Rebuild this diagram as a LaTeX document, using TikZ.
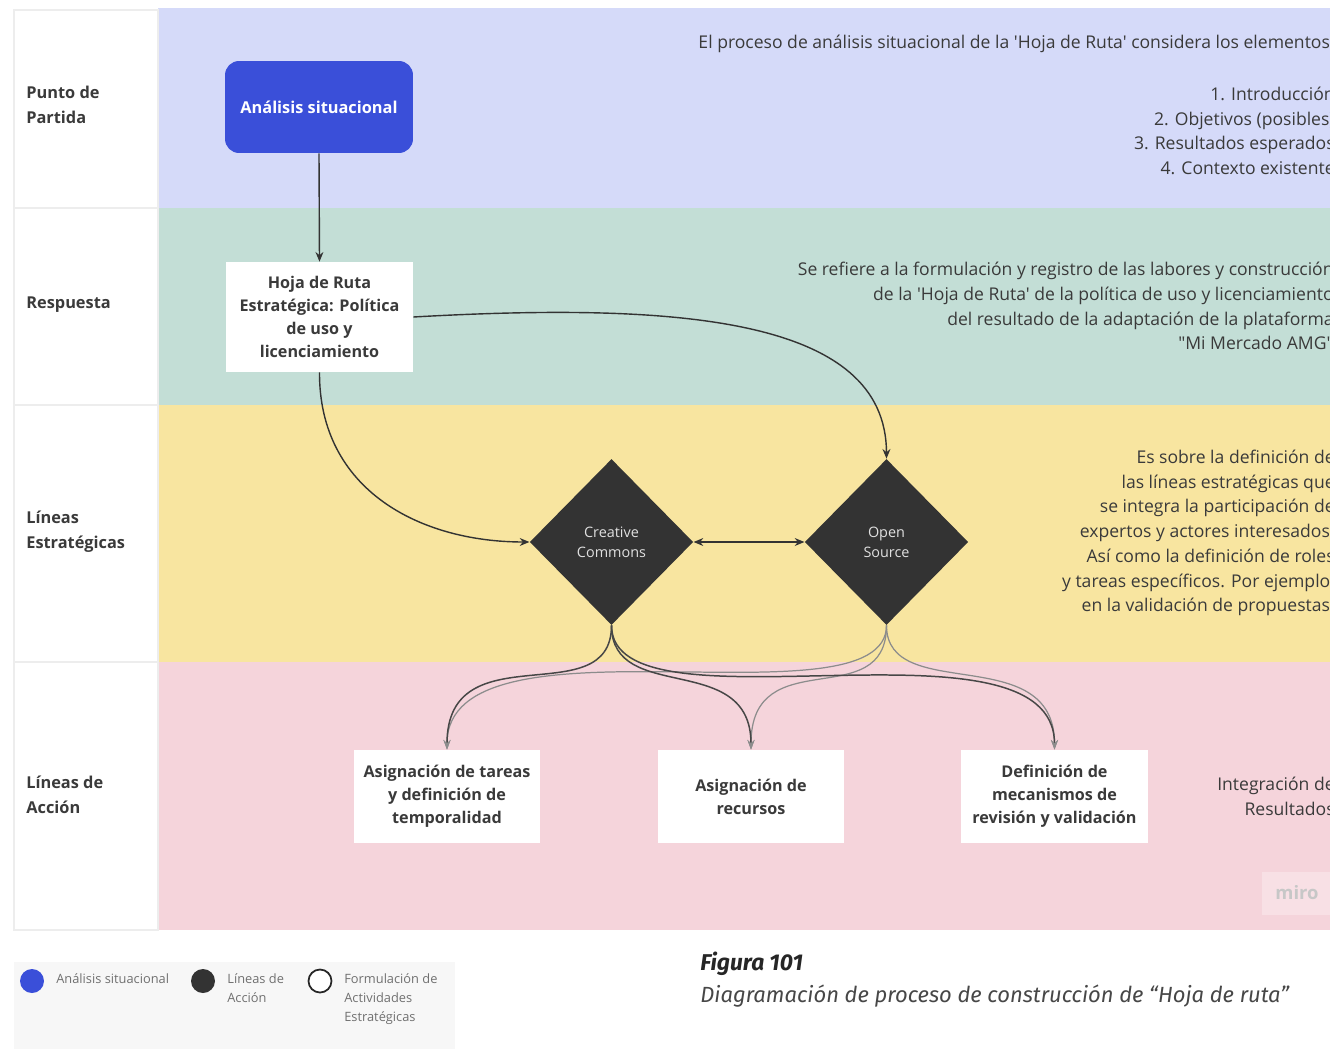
\documentclass[tikz,border=0pt]{standalone}
\usepackage{fontspec}
\setmainfont{Open Sans}[Ligatures=TeXOff]
\newfontfamily\capfont{Fira Sans}
\usetikzlibrary{shapes.geometric,arrows.meta}
\definecolor{laneA}{HTML}{D5DAF9}
\definecolor{laneB}{HTML}{C3DED6}
\definecolor{laneC}{HTML}{F8E5A0}
\definecolor{laneD}{HTML}{F5D4DB}
\definecolor{boxblue}{HTML}{3A4FD9}
\definecolor{dark}{HTML}{333333}
\definecolor{txt}{HTML}{3A3A3A}
\definecolor{cellline}{HTML}{EDEDED}
\definecolor{lightline}{HTML}{8C8C8C}
\definecolor{legtxt}{HTML}{707070}
\begin{document}
\begin{tikzpicture}[x=0.02cm,y=-0.02cm,
  cell/.style={draw=cellline,line width=0.8pt,fill=white},
  lanelabel/.style={anchor=west,align=left,inner sep=0pt,text=txt,font=\fontsize{9.3}{14.2}\selectfont\bfseries},
  desc/.style={anchor=east,align=right,inner sep=0pt,text=txt,font=\fontsize{10}{14.1}\selectfont},
  startbox/.style={fill=boxblue,rounded corners=8pt,minimum width=3.76cm,minimum height=1.84cm,text=white,font=\fontsize{9.3}{13}\selectfont\bfseries},
  whitebox/.style={fill=white,minimum width=3.74cm,minimum height=2.2cm,align=center,text=txt,font=\fontsize{9.2}{13}\selectfont\bfseries,inner sep=2pt},
  actbox/.style={fill=white,minimum width=3.74cm,minimum height=1.86cm,align=center,text=txt,font=\fontsize{9.2}{13}\selectfont\bfseries,inner sep=2pt},
  deci/.style={diamond,fill=dark,minimum width=3.27cm,minimum height=3.32cm,inner sep=0pt,align=center,text=white!88!black,font=\fontsize{8.2}{11.3}\selectfont},
  conn/.style={draw=dark,line width=0.8pt,-{Stealth[length=5.5pt,width=4.5pt]}},
  darkcurve/.style={draw=dark!90,line width=0.85pt,-{Stealth[length=5.5pt,width=4pt,color=lightline]}},
  lightcurve/.style={draw=lightline,line width=0.7pt,-{Stealth[length=5.5pt,width=4pt,color=lightline]}},
  legendtext/.style={anchor=north west,align=left,inner sep=0pt,text=legtxt,font=\fontsize{7.3}{10.8}\selectfont}
]
\useasboundingbox (0,0) rectangle (1330,1049);
\fill[white] (0,0) rectangle (1330,1049);
\begin{scope}
\clip (0,0) rectangle (1330,1049);
% lanes
\fill[laneA] (158,8) rectangle (1340,208);
\fill[laneB] (158,208) rectangle (1340,405);
\fill[laneC] (158,405) rectangle (1340,662);
\fill[laneD] (158,662) rectangle (1340,930);
% label column
\draw[cell] (14,10) rectangle (158,208);
\draw[cell] (14,208) rectangle (158,405);
\draw[cell] (14,405) rectangle (158,662);
\draw[cell] (14,662) rectangle (158,930);
\node[lanelabel] (lab1) at (26,105) {Punto de\\Partida};
\node[lanelabel] (lab2) at (26,305) {Respuesta};
\node[lanelabel] (lab3) at (26,532) {Líneas\\Estratégicas};
\node[lanelabel] (lab4) at (26,795) {Líneas de\\Acción};
% descriptions
\node[desc] (d1) at (1335,44) {El proceso de análisis situacional de la 'Hoja de Ruta' considera los elementos:};
\node[desc] (d1b) at (1335,131) {1. Introducción\\2. Objetivos (posibles)\\3. Resultados esperados\\4. Contexto existente};
\node[desc] (d2) at (1334,306) {Se refiere a la formulación y registro de las labores y construcción\\de la 'Hoja de Ruta' de la política de uso y licenciamiento\\del resultado de la adaptación de la plataforma\\"Mi Mercado AMG"};
\node[desc] (d3) at (1335,533) {Es sobre la definición de\\las líneas estratégicas que\\se integra la participación de\\expertos y actores interesados.\\Así como la definición de roles\\y tareas específicos. Por ejemplo,\\en la validación de propuestas.};
\node[desc] (d4) at (1335,796) {Integración de\\Resultados};
% miro watermark
\fill[white,opacity=0.3] (1262,872) rectangle (1335,915);
\node[text=black!22,font=\fontsize{10.5}{12}\selectfont\bfseries,inner sep=0pt] (miro) at (1297,893) {miro};
% main nodes
\node[startbox] (ana) at (319,107) {Análisis situacional};
\node[whitebox] (hoja) at (319.5,317) {Hoja de Ruta\\Estratégica: Política\\de uso y\\licenciamiento};
\node[deci] (cc) at (611.5,542) {Creative\\Commons};
\node[deci] (os) at (886.5,542) {Open\\Source};
\node[actbox] (b1) at (447,796.5) {Asignación de tareas\\y definición de\\temporalidad};
\node[actbox] (b2) at (751,796.5) {Asignación de\\recursos};
\node[actbox] (b3) at (1054.5,796.5) {Definición de\\mecanismos de\\revisión y validación};
% connectors
\draw[conn] (ana.south) -- (hoja.north);
\draw[conn] (hoja.south) .. controls (319,490) and (420,542) .. (cc.west);
\draw[conn] (hoja.east) .. controls (680,302) and (886,318) .. (os.north);
\draw[conn,{Stealth[length=5.5pt,width=4.5pt]}-{Stealth[length=5.5pt,width=4.5pt]}] (cc.east) -- (os.west);
\draw[lightcurve] (os.south) .. controls +(0,105) and +(0,-145) .. (b1.north);
\draw[lightcurve] (os.south) .. controls +(0,90) and +(0,-110) .. (b2.north);
\draw[lightcurve] (os.south) .. controls +(0,80) and +(0,-110) .. (b3.north);
\draw[darkcurve] (cc.south) .. controls +(0,90) and +(0,-120) .. (b1.north);
\draw[darkcurve] (cc.south) .. controls +(0,80) and +(0,-100) .. (b2.north);
\draw[darkcurve] (cc.south) .. controls +(0,115) and +(0,-145) .. (b3.north);
\end{scope}
% legend
\fill[black!3] (14,962) rectangle (455,1049);
\fill[boxblue] (32,981) circle (12);
\fill[dark] (203,981) circle (12);
\draw[black!85,line width=1pt,fill=white] (320,981) circle (11.5);
\node[legendtext] (l1) at (56,973) {Análisis situacional};
\node[legendtext] (l2) at (227,973) {Líneas de\\Acción};
\node[legendtext] (l3) at (344,973) {Formulación de\\Actividades\\Estratégicas};
% caption
\node[anchor=west,inner sep=0pt,text=black!85,font=\capfont\fontsize{13}{15}\selectfont\bfseries\itshape] (fig) at (700,964) {Figura 101};
\node[anchor=west,inner sep=0pt,text=black!72,font=\capfont\fontsize{12.5}{14}\selectfont\itshape] (cap) at (700,996) {Diagramación de proceso de construcción de “Hoja de ruta”};
\end{tikzpicture}
\end{document}
